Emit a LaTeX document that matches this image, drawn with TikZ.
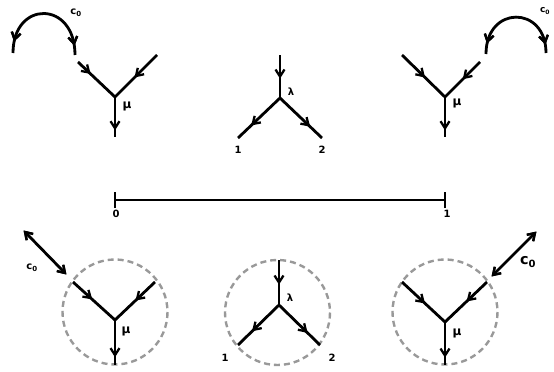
\documentclass[tikz,border=0pt]{standalone}
\usepackage{fontspec}
\setmainfont{DejaVu Sans}
\usepackage{tikz}
\usetikzlibrary{decorations.markings}
\tikzset{
  leg/.style={line width=2.8pt},
  vee/.style={line width=2.3pt,line join=miter},
  midarr/.style={postaction={decorate},decoration={markings,
      mark=at position #1 with {\draw[vee] (-7pt,4.5pt) -- (0pt,0pt) -- (-7pt,-4.5pt);}}},
  backarr/.style={postaction={decorate},decoration={markings,
      mark=at position #1 with {\draw[vee] (7pt,4.5pt) -- (0pt,0pt) -- (7pt,-4.5pt);}}},
  dbl/.style={backarr=0.001,midarr=0.999},
  blob/.style={draw=black!40,dash pattern=on 6pt off 4pt,line width=2.4pt},
  lbl/.style={font=\bfseries,inner sep=1pt},
  glbl/.style={font=\bfseries\large,inner sep=1pt}
}
\begin{document}
\begin{tikzpicture}[x=1pt,y=-1pt]
\useasboundingbox (0,0) rectangle (554,372);

% top left
\coordinate (v1) at (115,97);
\coordinate (a1) at (78,62);
\coordinate (b1) at (157,55);
\coordinate (d1) at (115,137);
\coordinate (p1) at (75,55);
\coordinate (q1) at (13,53);
\draw[leg,midarr=0.3] (a1) -- (v1);
\draw[leg,midarr=0.5] (b1) -- (v1);
\draw[leg,midarr=0.78] (v1) -- (d1);
\draw[leg,backarr=0.1,midarr=0.88] (p1) .. controls (75,0) and (13,0) .. (q1);
\node[lbl] (c1) at (76,13) {c\textsubscript{0}};
\node[glbl] (m1) at (127,106) {μ};

% top middle
\coordinate (v2) at (280,98);
\coordinate (t2) at (280,55);
\coordinate (l2) at (238,138);
\coordinate (r2) at (322,138);
\draw[leg,midarr=0.5] (t2) -- (v2);
\draw[leg,midarr=0.65] (v2) -- (l2);
\draw[leg,midarr=0.68] (v2) -- (r2);
\node[lbl] (la2) at (291,92) {λ};
\node[lbl] (n21) at (238,150) {1};
\node[lbl] (n22) at (322,150) {2};

% top right
\coordinate (v3) at (445,97);
\coordinate (a3) at (402,55);
\coordinate (b3) at (480,62);
\coordinate (d3) at (445,137);
\coordinate (p3) at (486,54);
\coordinate (q3) at (546,53);
\draw[leg,midarr=0.5] (a3) -- (v3);
\draw[leg,midarr=0.45] (b3) -- (v3);
\draw[leg,midarr=0.78] (v3) -- (d3);
\draw[leg,backarr=0.12,midarr=0.9] (p3) .. controls (486,5) and (546,5) .. (q3);
\node[lbl,font=\bfseries\small] (c3) at (545,11) {c\textsubscript{0}};
\node[glbl] (m3) at (457,103) {μ};

% interval
\coordinate (i0) at (115,200);
\coordinate (i1) at (445,200);
\draw[leg] (i0) -- (i1);
\draw[leg] ([yshift=-8pt]i0) -- ([yshift=8pt]i0);
\draw[leg] ([yshift=-8pt]i1) -- ([yshift=8pt]i1);
\node[lbl] (z0) at (116,214) {0};
\node[lbl] (z1) at (447,214) {1};

% bottom left
\draw[blob] (115,312) circle (52.5);
\coordinate (v4) at (115,320);
\coordinate (a4) at (73,282);
\coordinate (b4) at (155,282);
\coordinate (d4) at (115,365);
\coordinate (e4) at (25,232);
\coordinate (f4) at (65,273);
\draw[leg,dbl] (e4) -- (f4);
\draw[leg,midarr=0.42] (a4) -- (v4);
\draw[leg,midarr=0.45] (b4) -- (v4);
\draw[leg,midarr=0.78] (v4) -- (d4);
\node[lbl] (c4) at (32,268) {c\textsubscript{0}};
\node[glbl] (m4) at (126,331) {μ};

% bottom middle
\draw[blob] (277.5,312.5) circle (52.5);
\coordinate (v5) at (279,305);
\coordinate (t5) at (279,260);
\coordinate (l5) at (238,345);
\coordinate (r5) at (320,345);
\draw[leg,midarr=0.5] (t5) -- (v5);
\draw[leg,midarr=0.62] (v5) -- (l5);
\draw[leg,midarr=0.66] (v5) -- (r5);
\node[lbl] (la5) at (290,298) {λ};
\node[lbl] (n51) at (225,358) {1};
\node[lbl] (n52) at (332,358) {2};

% bottom right
\draw[blob] (445,312) circle (52.5);
\coordinate (v6) at (445,322);
\coordinate (a6) at (402,282);
\coordinate (b6) at (487,282);
\coordinate (d6) at (445,365);
\coordinate (e6) at (493,275);
\coordinate (f6) at (535,233);
\draw[leg,dbl] (e6) -- (f6);
\draw[leg,midarr=0.5] (a6) -- (v6);
\draw[leg,midarr=0.45] (b6) -- (v6);
\draw[leg,midarr=0.78] (v6) -- (d6);
\node[lbl,font=\bfseries\Large] (c6) at (528,262) {c\textsubscript{0}};
\node[glbl] (m6) at (457,333) {μ};
\end{tikzpicture}
\end{document}
